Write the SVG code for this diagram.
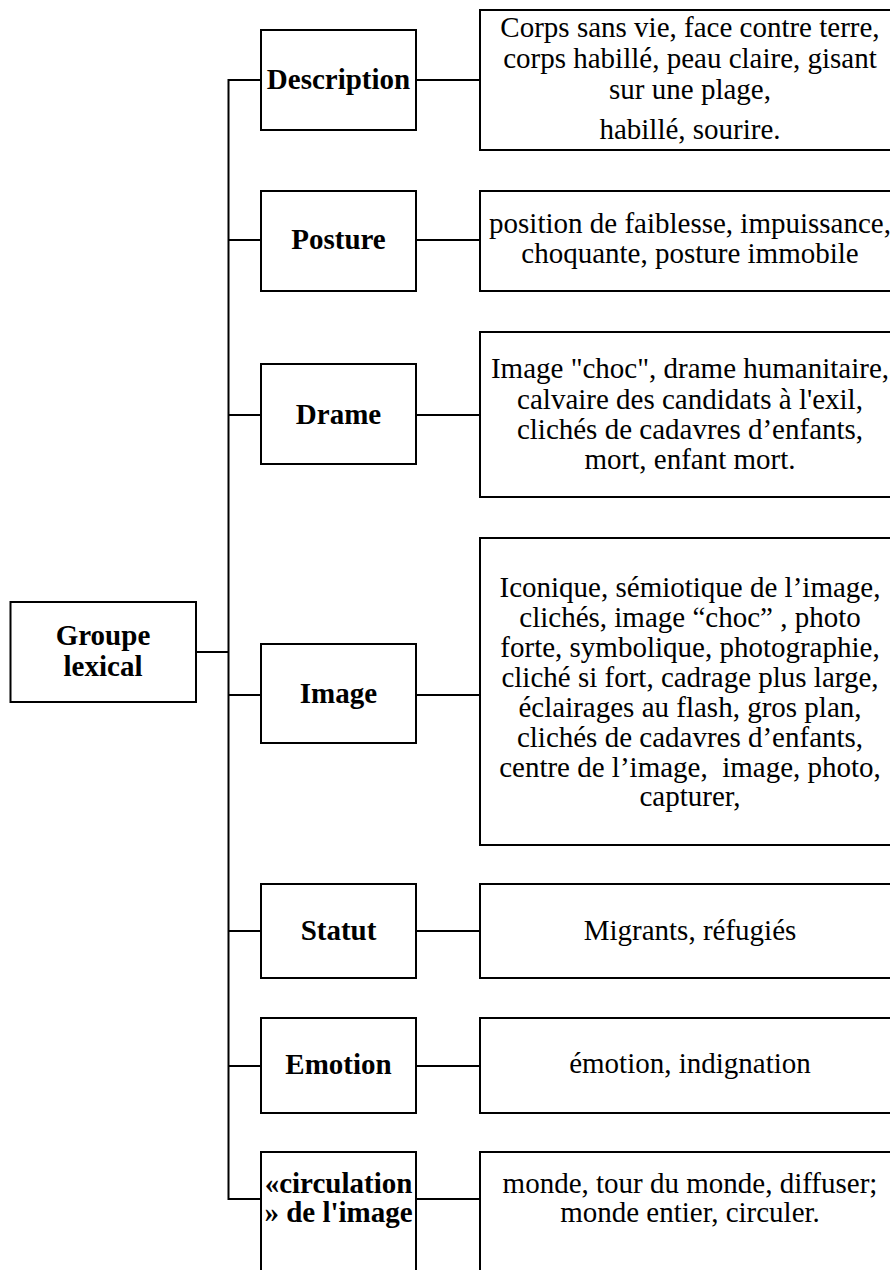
<svg xmlns="http://www.w3.org/2000/svg" width="890" height="1270" viewBox="0 0 890 1270">
<style>
  .box { fill: #ffffff; stroke: #000000; stroke-width: 2; }
  .conn { fill: none; stroke: #000000; stroke-width: 2; }
  .lbl { font-family: "Liberation Serif", "Times New Roman", serif; font-size: 29px; font-weight: bold; fill: #000000; text-anchor: middle; }
  .txt { font-family: "Liberation Serif", "Times New Roman", serif; font-size: 29px; fill: #000000; text-anchor: middle; }
</style>
<rect x="0" y="0" width="890" height="1270" fill="#ffffff"/>
<g id="connectors">
  <path class="conn" d="M261,80 H228.5 V1199 H261"/>
  <line class="conn" x1="196" y1="652" x2="228.5" y2="652"/>
  <line class="conn" x1="228.5" y1="240" x2="261" y2="240"/>
  <line class="conn" x1="228.5" y1="415" x2="261" y2="415"/>
  <line class="conn" x1="228.5" y1="695" x2="261" y2="695"/>
  <line class="conn" x1="228.5" y1="931" x2="261" y2="931"/>
  <line class="conn" x1="228.5" y1="1066" x2="261" y2="1066"/>
  <line class="conn" x1="416" y1="80" x2="480" y2="80"/>
  <line class="conn" x1="416" y1="240" x2="480" y2="240"/>
  <line class="conn" x1="416" y1="415" x2="480" y2="415"/>
  <line class="conn" x1="416" y1="695" x2="480" y2="695"/>
  <line class="conn" x1="416" y1="931" x2="480" y2="931"/>
  <line class="conn" x1="416" y1="1066" x2="480" y2="1066"/>
  <line class="conn" x1="416" y1="1199" x2="480" y2="1199"/>
</g>
<g id="root">
  <rect class="box" x="10.5" y="602" width="185.5" height="100"/>
  <text class="lbl" x="103" y="645">Groupe</text>
  <text class="lbl" x="103" y="676">lexical</text>
</g>
<g id="description">
  <rect class="box" x="261" y="30" width="155" height="100"/>
  <text class="lbl" x="338.5" y="89">Description</text>
</g>
<g id="description-terms">
  <rect class="box" x="480" y="10" width="420" height="140"/>
  <text class="txt" x="690" y="37">Corps sans vie, face contre terre,</text>
  <text class="txt" x="690" y="68">corps habillé, peau claire, gisant</text>
  <text class="txt" x="690" y="99">sur une plage,</text>
  <text class="txt" x="690" y="139">habillé, sourire.</text>
</g>
<g id="posture">
  <rect class="box" x="261" y="191" width="155" height="100"/>
  <text class="lbl" x="338.5" y="249">Posture</text>
</g>
<g id="posture-terms">
  <rect class="box" x="480" y="191" width="420" height="100"/>
  <text class="txt" x="690" y="233">position de faiblesse, impuissance,</text>
  <text class="txt" x="690" y="263">choquante, posture immobile</text>
</g>
<g id="drame">
  <rect class="box" x="261" y="364" width="155" height="100"/>
  <text class="lbl" x="338.5" y="424">Drame</text>
</g>
<g id="drame-terms">
  <rect class="box" x="480" y="332" width="420" height="165"/>
  <text class="txt" x="690" y="378">Image "choc", drame humanitaire,</text>
  <text class="txt" x="690" y="409">calvaire des candidats à l'exil,</text>
  <text class="txt" x="690" y="439">clichés de cadavres d’enfants,</text>
  <text class="txt" x="690" y="469">mort, enfant mort.</text>
</g>
<g id="image">
  <rect class="box" x="261" y="644" width="155" height="99"/>
  <text class="lbl" x="338.5" y="703">Image</text>
</g>
<g id="image-terms">
  <rect class="box" x="480" y="538" width="420" height="307"/>
  <text class="txt" x="690" y="597">Iconique, sémiotique de l’image,</text>
  <text class="txt" x="690" y="627">clichés, image “choc” , photo</text>
  <text class="txt" x="690" y="657">forte, symbolique, photographie,</text>
  <text class="txt" x="690" y="687">cliché si fort, cadrage plus large,</text>
  <text class="txt" x="690" y="717">éclairages au flash, gros plan,</text>
  <text class="txt" x="690" y="747">clichés de cadavres d’enfants,</text>
  <text class="txt" x="690" y="777" xml:space="preserve">centre de l’image,  image, photo,</text>
  <text class="txt" x="690" y="806">capturer,</text>
</g>
<g id="statut">
  <rect class="box" x="261" y="884" width="155" height="94"/>
  <text class="lbl" x="338.5" y="940">Statut</text>
</g>
<g id="statut-terms">
  <rect class="box" x="480" y="884" width="420" height="94"/>
  <text class="txt" x="690" y="940">Migrants, réfugiés</text>
</g>
<g id="emotion">
  <rect class="box" x="261" y="1018" width="155" height="95"/>
  <text class="lbl" x="338.5" y="1074">Emotion</text>
</g>
<g id="emotion-terms">
  <rect class="box" x="480" y="1018" width="420" height="95"/>
  <text class="txt" x="690" y="1073">émotion, indignation</text>
</g>
<g id="circulation">
  <rect class="box" x="261" y="1152" width="155" height="140"/>
  <text class="lbl" x="338.5" y="1193">«circulation</text>
  <text class="lbl" x="338.5" y="1222">» de l'image</text>
</g>
<g id="circulation-terms">
  <rect class="box" x="480" y="1152" width="420" height="140"/>
  <text class="txt" x="690" y="1193">monde, tour du monde, diffuser;</text>
  <text class="txt" x="690" y="1222">monde entier, circuler.</text>
</g>
</svg>
